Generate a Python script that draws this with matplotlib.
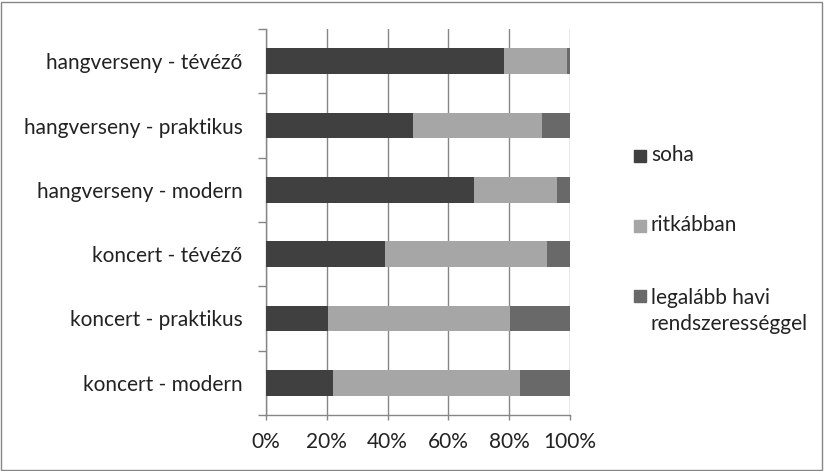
import matplotlib
matplotlib.use("Agg")
import matplotlib.pyplot as plt
from matplotlib.patches import Rectangle
from matplotlib.ticker import FixedLocator, PercentFormatter

categories = ["koncert - modern", "koncert - praktikus", "koncert - tévéző",
              "hangverseny - modern", "hangverseny - praktikus", "hangverseny - tévéző"]
series_names = ["soha", "ritkábban", "legalább havi\nrendszerességgel"]
soha = [22.1, 20.5, 39.2, 68.4, 48.3, 78.3]
ritkabban = [61.3, 59.6, 53.3, 27.4, 42.5, 20.8]
legalabb = [16.6, 19.9, 7.5, 4.2, 9.2, 0.9]
colors = ["#404040", "#a6a6a6", "#696969"]
xticks = [0, 20, 40, 60, 80, 100]

FONT = "Lato"
FS = 15
TXT = "#222222"
LS = 1.38

fig = plt.figure(figsize=(8.24, 4.71), dpi=100)
W, H = 824, 471
ax = fig.add_axes([266 / W, 1 - 415 / H, (570 - 266) / W, (415 - 29) / H])

y = list(range(len(categories)))
left = [0] * len(categories)
for vals, col, name in zip([soha, ritkabban, legalabb], colors, series_names):
    ax.barh(y, vals, left=left, height=0.4, color=col, edgecolor="none", zorder=3, label=name)
    left = [l + v for l, v in zip(left, vals)]

ax.set_xlim(0, 100)
ax.set_ylim(-0.5, len(categories) - 0.5)
ax.set_xticks(xticks)
ax.xaxis.set_major_formatter(PercentFormatter(decimals=0))
ax.set_yticks(y)
ax.set_yticklabels(categories)
ax.yaxis.set_minor_locator(FixedLocator([i - 0.5 for i in range(len(categories) + 1)]))
ax.tick_params(axis="y", which="major", length=0, pad=17)
ax.tick_params(axis="y", which="minor", length=5.5, color="#868686", width=1)
ax.tick_params(axis="x", length=3.6, color="#868686", width=1, pad=9)
for lab in ax.get_xticklabels() + ax.get_yticklabels():
    lab.set_fontfamily(FONT)
    lab.set_fontsize(FS)
    lab.set_color(TXT)
ax.grid(axis="x", color="#868686", linewidth=1, zorder=0)
for s in ["top", "right"]:
    ax.spines[s].set_visible(False)
for s in ["left", "bottom"]:
    ax.spines[s].set_color("#868686")
    ax.spines[s].set_linewidth(1)

# legend drawn manually (square aligned with the first text line)
leg_baseline = [161, 231, 301]
line_px = FS * LS * 100 / 72
for yy, col, name in zip(leg_baseline, colors, series_names):
    fig.patches.append(Rectangle((634 / W, 1 - (yy + 0.5) / H), 12 / W, 12 / H,
                                 transform=fig.transFigure, color=col))
    nlines = name.count("\n")
    fig.text(651 / W, 1 - (yy + nlines * line_px) / H, name, fontfamily=FONT, fontsize=FS,
             color=TXT, va="baseline", ha="left", linespacing=LS)

fig.patches.append(Rectangle((1 / W, 1 / H), (W - 3) / W, (H - 3) / H, transform=fig.transFigure,
                             fill=False, edgecolor="#868686", linewidth=1))
fig.savefig("out.png", dpi=100)
